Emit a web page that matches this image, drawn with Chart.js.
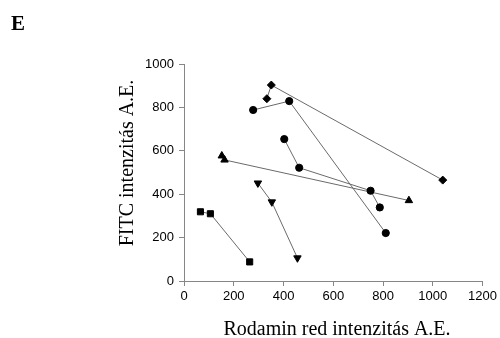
<!DOCTYPE html>
<html>
<head>
<meta charset="utf-8">
<title>FITC vs Rodamin red</title>
<script src="https://cdn.jsdelivr.net/npm/chart.js@4/dist/chart.umd.min.js"></script>
<style>
    html, body { margin: 0; padding: 0; background: #fff; }
    #wrap { width: 500px; height: 338px; position: relative; }
</style>
</head>
<body>
<div id="wrap"><canvas id="scatterChart" width="500" height="338"></canvas></div>
<script>
// Tick values
const xTicks = [0, 200, 400, 600, 800, 1000, 1200];
const yTicks = [0, 200, 400, 600, 800, 1000];

// Series (x = Rodamin red, y = FITC)
const diamondX = [333, 351, 1040];
const diamondY = [840, 903, 465];
const circleAX = [278, 423, 811];
const circleAY = [788, 829, 221];
const circleBX = [403, 463, 750, 787];
const circleBY = [654, 522, 416, 339];
const triangleX = [152, 163, 904];
const triangleY = [577, 558, 371];
const invTriangleX = [297, 353, 456];
const invTriangleY = [451, 364, 106];
const squareX = [66, 106, 264];
const squareY = [319, 310, 88];

const panelLabel = 'E';
const xTitle = 'Rodamin red intenzitás A.E.';
const yTitle = 'FITC intenzitás A.E.';

const axisColor = '#868686';
const lineColor = '#6a6a6a';

function toPoints(xs, ys) {
    return xs.map((x, i) => ({ x: x, y: ys[i] }));
}

function series(xs, ys, style, radius, rotation) {
    return {
        data: toPoints(xs, ys),
        showLine: true,
        borderColor: lineColor,
        borderWidth: 1,
        tension: 0,
        pointStyle: style,
        pointRadius: radius,
        pointRotation: rotation || 0,
        pointBackgroundColor: '#000',
        pointBorderColor: '#000',
        pointBorderWidth: 1
    };
}

// Texts placed at fixed spots around the plot
const textPlugin = {
    id: 'panelTexts',
    afterDraw(chart) {
        const ctx = chart.ctx;
        ctx.save();
        ctx.fillStyle = '#000';
        ctx.textBaseline = 'alphabetic';

        ctx.font = 'bold 21px "Liberation Serif", "Times New Roman", serif';
        ctx.textAlign = 'left';
        ctx.fillText(panelLabel, 11, 30);

        ctx.font = '20px "Liberation Serif", "Times New Roman", serif';
        ctx.textAlign = 'center';
        ctx.fillText(xTitle, 337, 335);

        ctx.translate(133, 163);
        ctx.rotate(-Math.PI / 2);
        ctx.fillText(yTitle, 0, 0);
        ctx.restore();
    }
};

const tickFont = { family: '"Liberation Sans", Arial, sans-serif', size: 13 };
const plainNumber = (value) => String(value);

new Chart(document.getElementById('scatterChart'), {
    type: 'scatter',
    data: {
        datasets: [
            series(diamondX, diamondY, 'rectRot', 4),
            series(circleAX, circleAY, 'circle', 3.6),
            series(circleBX, circleBY, 'circle', 3.6),
            series(triangleX, triangleY, 'triangle', 4.3),
            series(invTriangleX, invTriangleY, 'triangle', 4.3, 180),
            series(squareX, squareY, 'rect', 4.3)
        ]
    },
    options: {
        responsive: false,
        animation: false,
        devicePixelRatio: 1,
        layout: {
            padding: { left: 0, right: 16, top: 64, bottom: 0 }
        },
        plugins: {
            legend: { display: false },
            tooltip: { enabled: false }
        },
        scales: {
            x: {
                type: 'linear',
                min: xTicks[0],
                max: xTicks[xTicks.length - 1],
                afterFit: (scale) => { scale.height = 57; },
                afterBuildTicks: (scale) => { scale.ticks = xTicks.map(v => ({ value: v })); },
                grid: { drawOnChartArea: false, color: axisColor, tickLength: 5 },
                border: { color: axisColor },
                ticks: { color: '#000', font: tickFont, padding: 3, maxRotation: 0, callback: plainNumber }
            },
            y: {
                type: 'linear',
                min: yTicks[0],
                max: yTicks[yTicks.length - 1],
                afterFit: (scale) => { scale.width = 184; },
                afterBuildTicks: (scale) => { scale.ticks = yTicks.map(v => ({ value: v })); },
                grid: { drawOnChartArea: false, color: axisColor, tickLength: 5 },
                border: { color: axisColor },
                ticks: { color: '#000', font: tickFont, padding: 5, callback: plainNumber }
            }
        }
    },
    plugins: [textPlugin]
});
</script>
</body>
</html>
